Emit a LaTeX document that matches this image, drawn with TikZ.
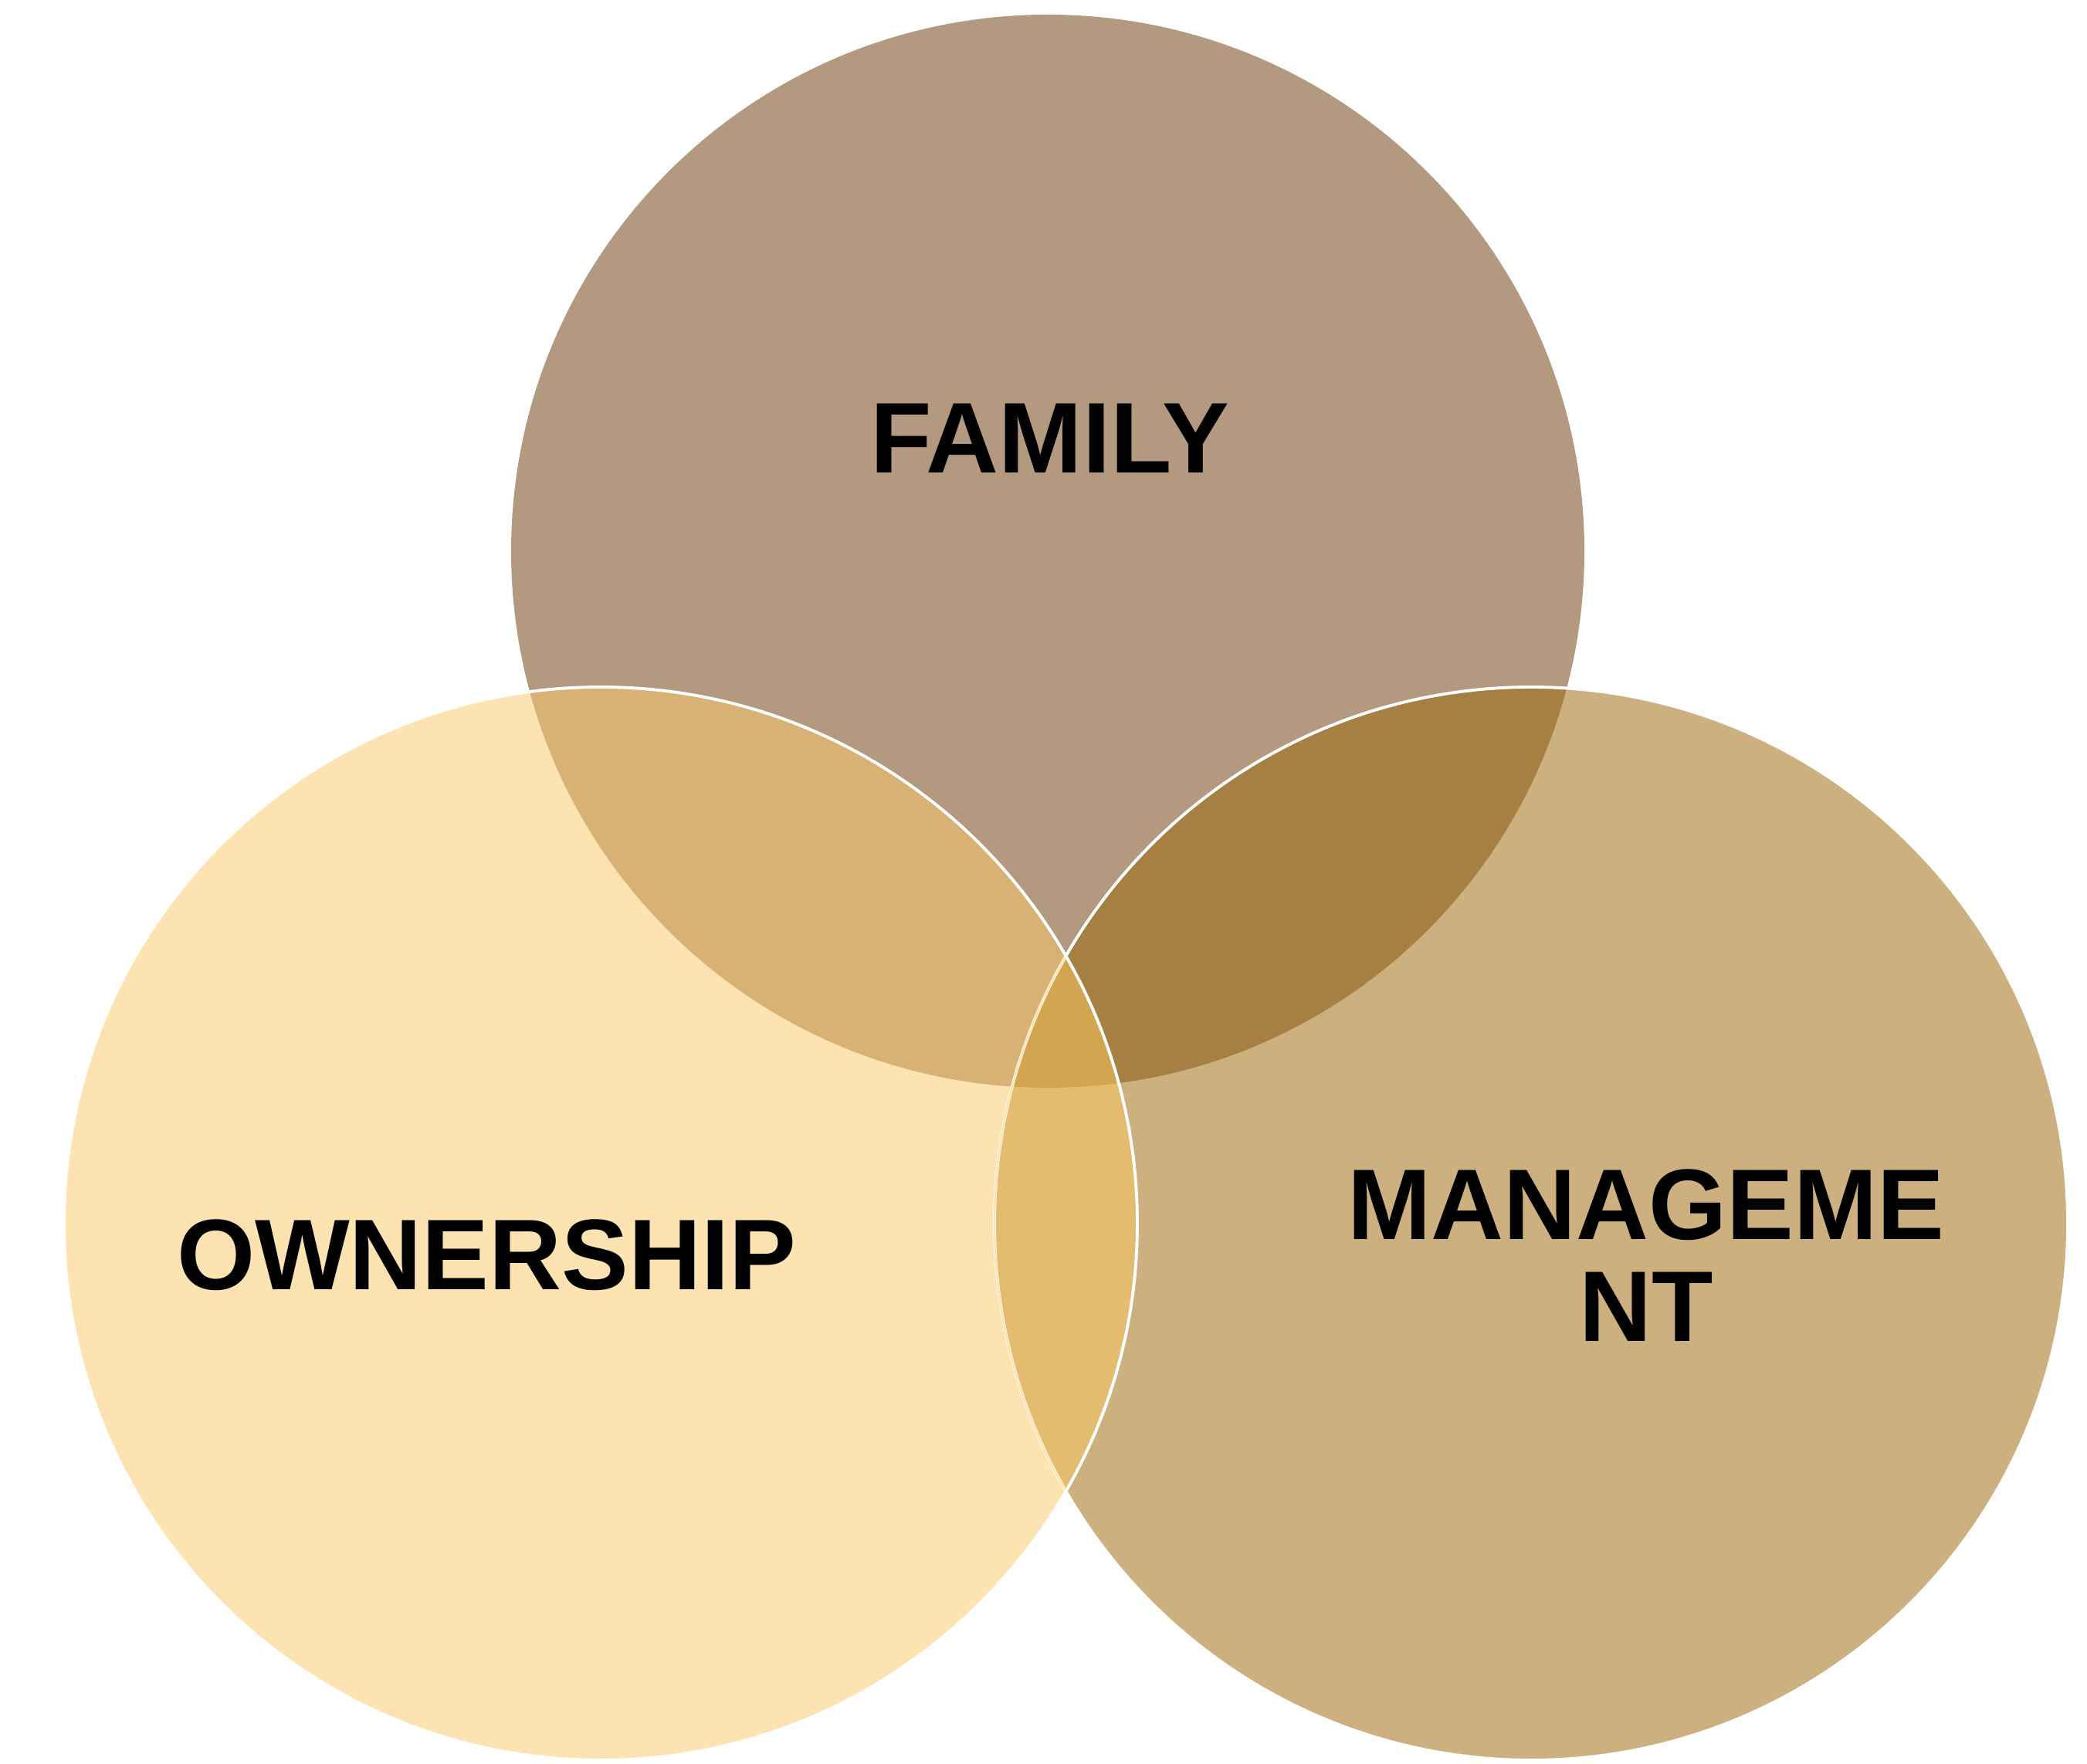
\documentclass[tikz,border=0pt]{standalone}
\usepackage{fontspec}
\setmainfont{Liberation Sans}
\usepackage{tikz}
\usetikzlibrary{calc}

\definecolor{familyColor}{RGB}{179,153,128}
\definecolor{ownershipColor}{RGB}{253,227,177}
\definecolor{managementColor}{RGB}{204,176,128}
\definecolor{famOwnColor}{RGB}{216,177,116}
\definecolor{famManColor}{RGB}{165,128,66}
\definecolor{ownManColor}{RGB}{227,188,112}
\definecolor{allThreeColor}{RGB}{211,165,80}

\tikzset{
	label_text/.style={inner sep=0pt, text=black, align=center, font=\fontsize{37}{37.6}\selectfont\bfseries}
}

\begin{document}
\begin{tikzpicture}
	\newcommand{\circleRadius}{6.95}
	\newcommand{\whiteLine}{1.1pt}

	\useasboundingbox (0,0) rectangle (27.03,22.84);

	\coordinate (family_center) at (13.57,15.70);
	\coordinate (ownership_center) at (7.78,6.99);
	\coordinate (management_center) at (19.83,6.99);

	% draw circles
	\fill[familyColor] (family_center) circle (\circleRadius);
	\fill[managementColor] (management_center) circle (\circleRadius);
	\fill[ownershipColor] (ownership_center) circle (\circleRadius);

	% overlaps
	\begin{scope}
		\clip (family_center) circle (\circleRadius);
		\fill[famOwnColor] (ownership_center) circle (\circleRadius);
		\fill[famManColor] (management_center) circle (\circleRadius);
	\end{scope}
	\begin{scope}
		\clip (ownership_center) circle (\circleRadius);
		\fill[ownManColor] (management_center) circle (\circleRadius);
		\clip (family_center) circle (\circleRadius);
		\fill[allThreeColor] (management_center) circle (\circleRadius);
	\end{scope}

	% outlines
	\draw[white, line width=\whiteLine] (management_center) circle (\circleRadius);
	\begin{scope}
		\clip (ownership_center) circle (\circleRadius);
		\draw[ownershipColor, line width=0.7pt] (management_center) circle (\circleRadius);
	\end{scope}
	\draw[white, line width=\whiteLine] (ownership_center) circle (\circleRadius);

	% labels
	\node[label_text] (family_label) at (13.60,17.16) {FAMILY};
	\node[label_text] (ownership_label) at (6.30,6.58) {OWNERSHIP};
	\node[label_text] (management_label) at (21.32,6.58) {MANAGEME\\NT};
\end{tikzpicture}
\end{document}
